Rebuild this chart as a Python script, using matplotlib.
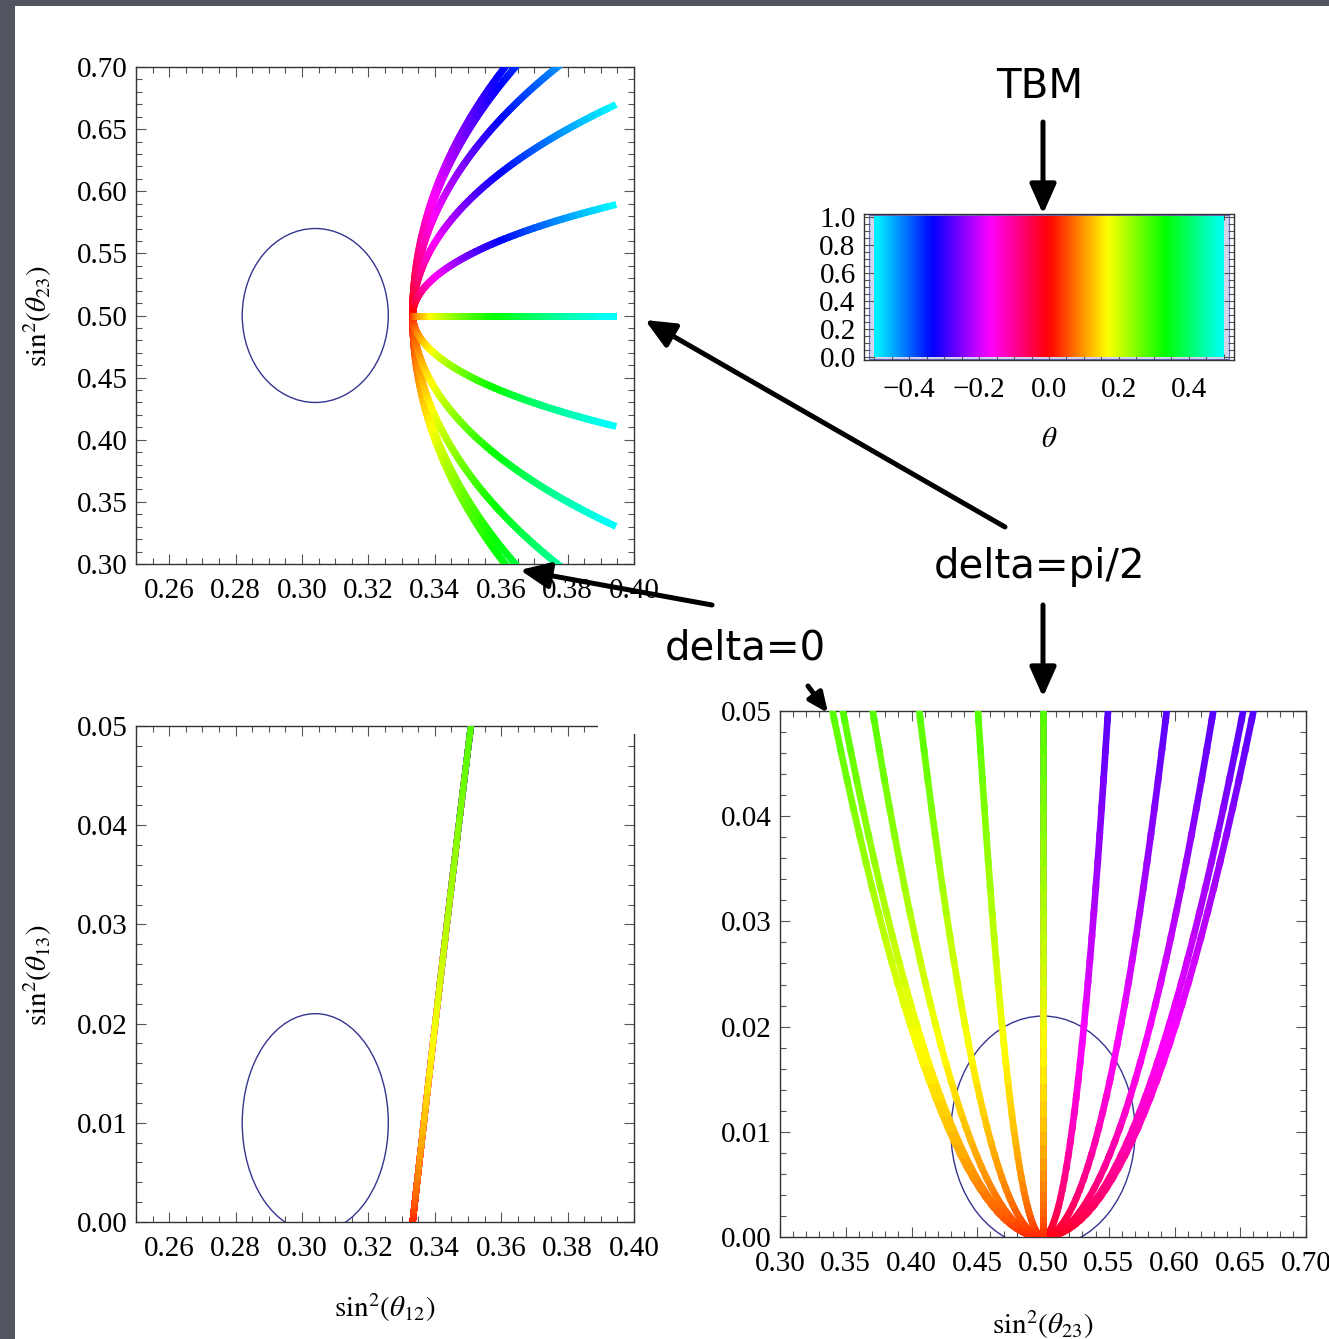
import numpy as np
import matplotlib
matplotlib.use("Agg")
import matplotlib.pyplot as plt
from matplotlib.collections import LineCollection
from matplotlib.patches import Ellipse, Rectangle, FancyArrowPatch
from matplotlib.ticker import MultipleLocator, FormatStrFormatter
from matplotlib.colors import hsv_to_rgb

plt.rcParams['font.family'] = ['Liberation Serif', 'DejaVu Serif']
plt.rcParams['mathtext.fontset'] = 'stix'
plt.rcParams['axes.unicode_minus'] = True

# ---------------- data ----------------
# CP phases of the curves, in units of pi
delta_over_pi = [0.0, 0.1, 0.2, 0.3, 0.4, 0.5]
# mixing-angle parameter range (colour axis)
theta_range = [-0.5, 0.5]
theta_samples = 121
# TBM point
tbm_s12, tbm_s23, tbm_s13 = 1/3, 1/2, 0.0
# 1-sigma ellipses: (centre x, centre y, half-width, half-height)
ell_top_left = (0.304, 0.500, 0.022, 0.070)
ell_bot_left = (0.304, 0.010, 0.022, 0.011)
ell_bot_right = (0.500, 0.010, 0.070, 0.011)
# axes ranges
tl_xlim, tl_ylim = (0.25, 0.40), (0.30, 0.70)
bl_xlim, bl_ylim = (0.25, 0.40), (0.00, 0.05)
br_xlim, br_ylim = (0.30, 0.70), (0.00, 0.05)
cb_xlim, cb_ylim = (-0.53, 0.53), (-0.021, 1.021)
cb_bins = 50

W, H = 1329, 1339
fig = plt.figure(figsize=(W / 100, H / 100), dpi=100)
fig.patch.set_facecolor('#50555f')
fig.add_artist(Rectangle((15 / W, 0), 1 - 15 / W, 1 - 6 / H, transform=fig.transFigure,
                         facecolor='white', edgecolor='none', zorder=-5))


def fx(x):
    return x / W


def fy(y):
    return 1 - y / H


def ax_at(l, t, r, b):
    return fig.add_axes([l / W, 1 - b / H, (r - l) / W, (b - t) / H])


def style(ax, xmaj, xmin, ymaj, ymin, xfmt, yfmt, fs=21):
    ax.xaxis.set_major_locator(MultipleLocator(xmaj))
    ax.xaxis.set_minor_locator(MultipleLocator(xmin))
    ax.yaxis.set_major_locator(MultipleLocator(ymaj))
    ax.yaxis.set_minor_locator(MultipleLocator(ymin))
    ax.xaxis.set_major_formatter(FormatStrFormatter(xfmt))
    ax.yaxis.set_major_formatter(FormatStrFormatter(yfmt))
    ax.tick_params(which='both', direction='in', top=True, right=True,
                   color='#555555', width=0.8, labelsize=fs, labelcolor='black')
    ax.tick_params(which='major', length=7)
    ax.tick_params(which='minor', length=4)
    ax.tick_params(axis='x', pad=10)
    ax.tick_params(axis='y', pad=6)
    for s in ax.spines.values():
        s.set_color('#333333')
        s.set_linewidth(1.0)


def hue_colors(vals):
    h = np.mod(vals, 1.0)
    hsv = np.stack([h, np.ones_like(h), np.ones_like(h)], axis=-1)
    return hsv_to_rgb(hsv)


theta = np.linspace(theta_range[0], theta_range[1], theta_samples)
s2 = np.sin(theta) ** 2
s13 = tbm_s13 + (2 / 3) * s2
s12 = tbm_s12 / (1 - (2 / 3) * s2)


def s23_for(delta):
    return tbm_s23 - np.sqrt(3) * np.sin(2 * theta) * np.cos(delta) / (2 * (3 - 2 * s2))


seg_cols = hue_colors(0.5 * (theta[:-1] + theta[1:]))


def add_curve(ax, x, y, lw):
    pts = np.column_stack([x, y]).reshape(-1, 1, 2)
    segs = np.concatenate([pts[:-1], pts[1:]], axis=1)
    lc = LineCollection(segs, colors=seg_cols, linewidths=lw, capstyle='projecting',
                        joinstyle='miter', zorder=3)
    ax.add_collection(lc)


def add_ellipse(ax, e):
    ax.add_patch(Ellipse((e[0], e[1]), 2 * e[2], 2 * e[3], fill=False,
                         edgecolor='#35358f', lw=1.0, zorder=2))


# ---------------- top-left: s23 vs s12 ----------------
ax1 = ax_at(136, 67, 634, 564)
for d in delta_over_pi:
    add_curve(ax1, s12, s23_for(d * np.pi), 5.0)
add_ellipse(ax1, ell_top_left)
ax1.set_xlim(*tl_xlim)
ax1.set_ylim(*tl_ylim)
style(ax1, 0.02, 0.005, 0.05, 0.01, '%.2f', '%.2f')

# ---------------- bottom-left: s13 vs s12 ----------------
ax2 = ax_at(136, 726, 634, 1222)
for d in delta_over_pi:
    add_curve(ax2, s12, s13, 4.5)
add_ellipse(ax2, ell_bot_left)
ax2.set_xlim(*bl_xlim)
ax2.set_ylim(*bl_ylim)
style(ax2, 0.02, 0.005, 0.01, 0.002, '%.2f', '%.2f')

# ---------------- bottom-right: s13 vs s23 ----------------
ax3 = ax_at(780, 711, 1306, 1237)
for d in delta_over_pi:
    add_curve(ax3, s23_for(d * np.pi), s13, 4.8)
add_ellipse(ax3, ell_bot_right)
ax3.set_xlim(*br_xlim)
ax3.set_ylim(*br_ylim)
style(ax3, 0.05, 0.01, 0.01, 0.002, '%.2f', '%.2f')

# ---------------- colour legend ----------------
ax4 = ax_at(864, 214, 1234, 360)
edges = np.linspace(theta_range[0], theta_range[1], cb_bins + 1)
centres = 0.5 * (edges[:-1] + edges[1:])
img = hue_colors(centres)[np.newaxis, :, :]
ax4.add_patch(Rectangle((-0.515, -0.012), 1.03, 1.024, facecolor='#d4d4ea',
                        edgecolor='#6a6ac8', lw=0.8, zorder=1))
ax4.imshow(img, extent=(theta_range[0], theta_range[1], 0, 1), aspect='auto',
           interpolation='bilinear', zorder=2)
ax4.set_xlim(*cb_xlim)
ax4.set_ylim(*cb_ylim)
style(ax4, 0.2, 0.05, 0.2, 0.05, '%.1f', '%.1f')
ax4.tick_params(axis='x', pad=12)
ax4.xaxis.set_major_formatter(matplotlib.ticker.FuncFormatter(
    lambda v, p: ('\u2212%.1f' % abs(v)) if v < -1e-9 else '%.1f' % abs(v)))

# ---------------- axis labels ----------------
lab_fs = 21
fig.text(fx(38), fy(316), r'$\mathrm{sin}^2(\theta_{23})$', rotation=90, ha='center', va='center', fontsize=lab_fs)
fig.text(fx(38), fy(975), r'$\mathrm{sin}^2(\theta_{13})$', rotation=90, ha='center', va='center', fontsize=lab_fs)
fig.text(fx(385), fy(1308), r'$\mathrm{sin}^2(\theta_{12})$', ha='center', va='center', fontsize=lab_fs)
fig.text(fx(1043), fy(1325), r'$\mathrm{sin}^2(\theta_{23})$', ha='center', va='center', fontsize=lab_fs)
fig.text(fx(1049), fy(440), r'$\theta$', ha='center', va='center', fontsize=lab_fs)

# slide artefact: gap in the bottom-left frame corner
fig.add_artist(Rectangle((fx(598), fy(734)), 45 / W, 20 / H, transform=fig.transFigure,
                         facecolor='white', edgecolor='none', zorder=5))

# ---------------- annotations ----------------
ann_font = dict(family=['DejaVu Sans'], fontsize=29, color='black')
fig.text(fx(1040), fy(87), 'TBM', ha='center', va='center', **ann_font)
fig.text(fx(1039), fy(567), 'delta=pi/2', ha='center', va='center', **ann_font)
fig.text(fx(745), fy(648), 'delta=0', ha='center', va='center', **ann_font)

arrows = [((1043, 122), (1043, 214), 20),
          ((1005, 527), (645, 320), 20),
          ((712, 605), (520, 570), 20),
          ((1043, 605), (1043, 697), 20),
          ((808, 686), (828, 713), 13)]
for (x0, y0), (x1, y1), ms in arrows:
    fig.add_artist(FancyArrowPatch((fx(x0), fy(y0)), (fx(x1), fy(y1)),
                                   transform=fig.transFigure,
                                   arrowstyle='-|>,head_length=0.9,head_width=0.4',
                                   mutation_scale=ms, lw=3.6, color='black',
                                   shrinkA=0, shrinkB=0, zorder=6))

fig.savefig('out.png', dpi=100, facecolor=fig.get_facecolor())
